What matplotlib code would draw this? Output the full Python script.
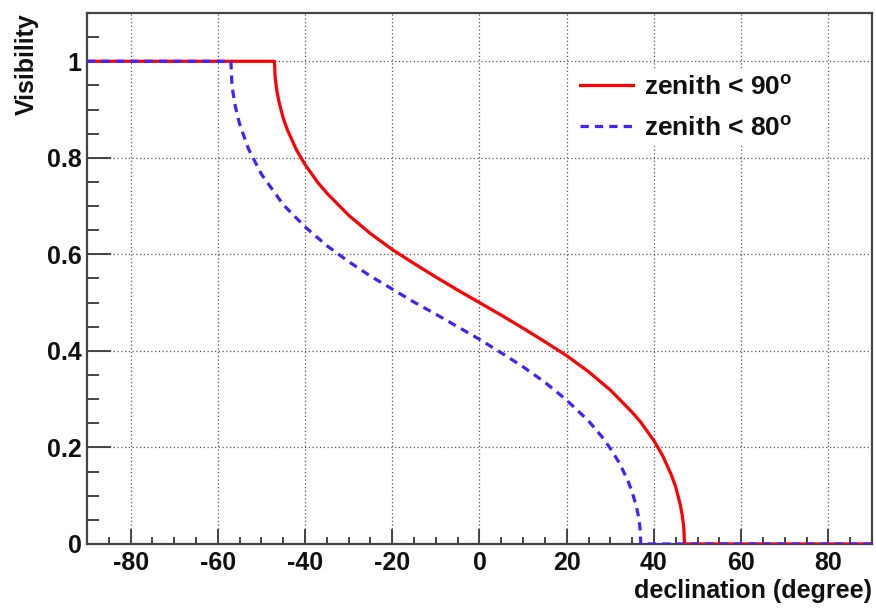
import numpy as np
import matplotlib
matplotlib.use("Agg")
import matplotlib.pyplot as plt

# declination (degree) / visibility
dec_90 = [-90, -47.0, -46.9, -46.8, -46.5, -46, -45, -44, -42, -40, -37, -35, -30,
          -25, -20, -15, -10, -5, 0, 5, 10, 15, 20, 25, 30, 35, 37, 40, 42, 44,
          45, 46, 46.5, 46.8, 46.9, 47.0, 90]
vis_90 = [1.0, 1.0, 0.973, 0.962, 0.941, 0.917, 0.882, 0.857, 0.817, 0.786, 0.748,
          0.727, 0.681, 0.643, 0.610, 0.581, 0.553, 0.526, 0.500, 0.474, 0.447,
          0.419, 0.390, 0.357, 0.319, 0.273, 0.252, 0.214, 0.183, 0.143, 0.118,
          0.083, 0.059, 0.038, 0.027, 0.0, 0.0]

dec_80 = [-90, -57.0, -56.8, -56.5, -56, -55, -53, -50, -45, -40, -35, -30, -25,
          -20, -15, -10, -5, 0, 5, 10, 15, 20, 25, 28, 30, 32, 34, 35, 36, 36.5,
          36.8, 37.0, 90]
vis_80 = [1.0, 1.0, 0.958, 0.934, 0.907, 0.870, 0.819, 0.766, 0.703, 0.657, 0.618,
          0.585, 0.555, 0.528, 0.501, 0.476, 0.450, 0.424, 0.396, 0.367, 0.335,
          0.298, 0.255, 0.223, 0.198, 0.169, 0.132, 0.108, 0.077, 0.055, 0.034,
          0.0, 0.0]

xticks = [-80, -60, -40, -20, 0, 20, 40, 60, 80]
yticks = [0, 0.2, 0.4, 0.6, 0.8, 1.0]
ytick_labels = ["0", "0.2", "0.4", "0.6", "0.8", "1"]

plt.rcParams["font.family"] = ["Liberation Sans", "DejaVu Sans"]
plt.rcParams["font.weight"] = "bold"
plt.rcParams["axes.unicode_minus"] = False
plt.rcParams["mathtext.fontset"] = "custom"
plt.rcParams["mathtext.rm"] = "Liberation Sans:bold"
plt.rcParams["mathtext.default"] = "rm"

fig = plt.figure(figsize=(8.76, 6.08), dpi=100)
ax = fig.add_axes([0.0993, 0.1053, 0.8961, 0.8733])

ax.plot(dec_90, vis_90, color="#ff0000", lw=2.3, label="zenith < 90$^{o}$", zorder=3)
ax.plot(dec_80, vis_80, color="#4820ff", lw=2.3, linestyle=(0, (2.6, 1.9)),
        label="zenith < 80$^{o}$", zorder=4)

ax.set_xlim(-90, 90)
ax.set_ylim(0, 1.1)
ax.set_xticks(xticks)
ax.set_xticks(np.arange(-85, 90, 5), minor=True)
ax.set_yticks(yticks)
ax.set_yticklabels(ytick_labels)
ax.set_yticks(np.arange(0, 1.1, 0.05), minor=True)

ax.grid(True, which="major", color="#555555", linestyle=(0, (1, 2)), lw=0.9)
ax.set_axisbelow(True)

for s in ax.spines.values():
    s.set_color("#444444")
    s.set_linewidth(1.6)

ax.tick_params(axis="both", which="both", direction="in", colors="#444444",
               width=1.4, labelcolor="#111111", labelsize=18)
ax.tick_params(axis="x", which="major", length=10.8, pad=5)
ax.tick_params(axis="x", which="minor", length=5.4)
ax.tick_params(axis="y", which="major", length=17, pad=4)
ax.tick_params(axis="y", which="minor", length=8.6)

ax.set_ylabel("Visibility", loc="top", fontsize=18, fontweight="bold", labelpad=6,
              color="#111111")
ax.set_xlabel("declination (degree)", loc="right", fontsize=18, fontweight="bold",
              labelpad=3, color="#111111")

leg = ax.legend(loc="upper left", bbox_to_anchor=(0.605, 0.917), fontsize=19,
                frameon=True, fancybox=False, edgecolor="none", facecolor="white",
                framealpha=1, handlelength=2.0, handletextpad=0.42,
                labelspacing=0.64, borderpad=0.2)
for t in leg.get_texts():
    t.set_color("#111111")

fig.savefig("out.png", dpi=100)
